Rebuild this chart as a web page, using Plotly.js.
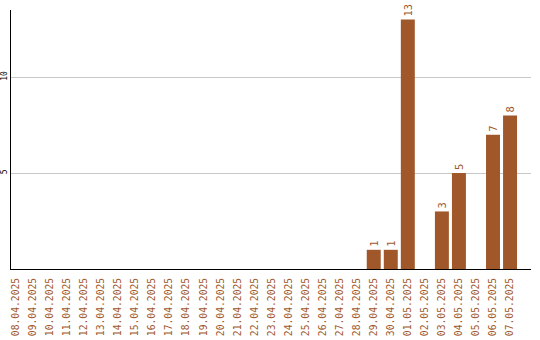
<!DOCTYPE html>
<html><head><meta charset="utf-8">
<script src="https://cdn.plot.ly/plotly-3.0.1.min.js"></script>
<style>body{margin:0}#c{width:540px;height:340px}</style>
</head><body><div id="c"></div>
<script>
const dates = ["08.04.2025","09.04.2025","10.04.2025","11.04.2025","12.04.2025","13.04.2025","14.04.2025","15.04.2025","16.04.2025","17.04.2025","18.04.2025","19.04.2025","20.04.2025","21.04.2025","22.04.2025","23.04.2025","24.04.2025","25.04.2025","26.04.2025","27.04.2025","28.04.2025","29.04.2025","30.04.2025","01.05.2025","02.05.2025","03.05.2025","04.05.2025","05.05.2025","06.05.2025","07.05.2025"];
const counts = [0,0,0,0,0,0,0,0,0,0,0,0,0,0,0,0,0,0,0,0,0,1,1,13,0,3,5,0,7,8];
const yTicks = [5,10];

const idx = dates.map((d,i)=>i);
const trace = {
  type:'bar', x: idx, y: counts,
  marker:{color:'#a0572a'},
  text: counts.map(v => v ? String(v) : ''),
  textposition:'outside', textangle:-90, cliponaxis:false,
  textfont:{family:'DejaVu Sans Mono', size:10.5, color:'#a0572a'},
  hoverinfo:'none'
};
const layout = {
  width:540, height:340,
  margin:{l:11, r:9, t:10, b:71},
  paper_bgcolor:'#fff', plot_bgcolor:'#fff',
  showlegend:false, bargap:0.18,
  font:{family:'DejaVu Sans Mono'},
  xaxis:{
    type:'linear', range:[-0.29, 30.23],
    tickvals: idx, ticktext: dates, tickangle:-90,
    tickfont:{family:'DejaVu Sans Mono', size:9.7, color:'#a0572a'},
    showgrid:false, zeroline:false, showline:true, linecolor:'#000', linewidth:1,
    ticks:'', ticklen:0, ticklabelstandoff:4
  },
  yaxis:{
    range:[0,13.5], tickvals:yTicks, ticktext: yTicks.map(String), tickangle:-90,
    tickfont:{family:'DejaVu Sans Mono', size:8, color:'#000'},
    showgrid:true, gridcolor:'#c8c8c8', gridwidth:1,
    zeroline:false, showline:true, linecolor:'#000', linewidth:1, ticks:''
  }
};
Plotly.newPlot('c',[trace],layout,{staticPlot:true});
</script></body></html>
